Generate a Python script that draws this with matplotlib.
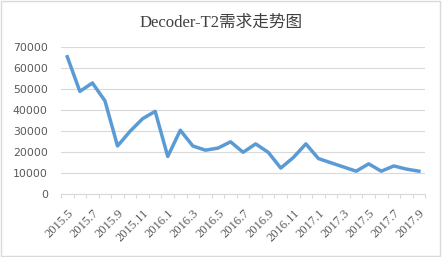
import numpy as np
import matplotlib
matplotlib.use("Agg")
import matplotlib.pyplot as plt
from matplotlib.patches import Rectangle

# monthly demand, 2015.5 .. 2017.9
months = []
for y in (2015, 2016, 2017):
    for m in range(1, 13):
        if (y == 2015 and m < 5) or (y == 2017 and m > 9):
            continue
        months.append(f"{y}.{m}")

demand = [65500, 49000, 53000, 44500, 23000, 30000, 36000, 39500,
          18000, 30500, 23000, 21000, 22000, 25000, 20000, 24000,
          20000, 12500, 17500, 24000, 17000, 15000, 13000, 11000,
          14500, 11000, 13500, 12000, 11000]

title = "Decoder-T2需求走势图"
yticks = list(range(0, 70001, 10000))

plt.rcParams['font.family'] = ['DejaVu Sans', 'Noto Sans CJK SC']
serif = ['Liberation Serif', 'Noto Sans CJK SC']

fig = plt.figure(figsize=(4.42, 2.57), dpi=100)
fig.patches.append(Rectangle((0.002, 0.004), 0.994, 0.992, transform=fig.transFigure,
                             fill=False, edgecolor='#D9D9D9', linewidth=1.0))
ax = fig.add_axes([0.138, 0.244, 0.824, 0.572])

x = np.arange(len(months))
ax.plot(x, demand, color='#5B9BD5', linewidth=2.5, solid_joinstyle='round')

ax.set_xlim(-0.5, len(months) - 0.5)
ax.set_ylim(0, 70000)
ax.set_yticks(yticks)
ax.set_yticklabels([str(v) for v in yticks])
ax.yaxis.grid(True, color='#D9D9D9', linewidth=0.8)
ax.set_axisbelow(True)

ax.set_xticks(x[::2])
ax.set_xticklabels(months[::2], rotation=45, ha='right', rotation_mode='anchor',
                   family=serif, fontsize=9)
ax.set_xticks(np.arange(-0.5, len(months), 1), minor=True)
ax.tick_params(axis='x', which='major', length=0, pad=9, colors='#595959')
ax.tick_params(axis='x', which='minor', length=3, color='#D9D9D9', width=0.8)
ax.tick_params(axis='y', length=0, pad=9.5, labelsize=7.8, colors='#595959')

for side in ('top', 'right', 'left'):
    ax.spines[side].set_visible(False)
ax.spines['bottom'].set_color('#D9D9D9')
ax.spines['bottom'].set_linewidth(0.8)

fig.text(0.5, 0.912, title, ha='center', va='center', fontsize=12,
         color='#404040', family=serif)

fig.savefig("out.png", dpi=100)
